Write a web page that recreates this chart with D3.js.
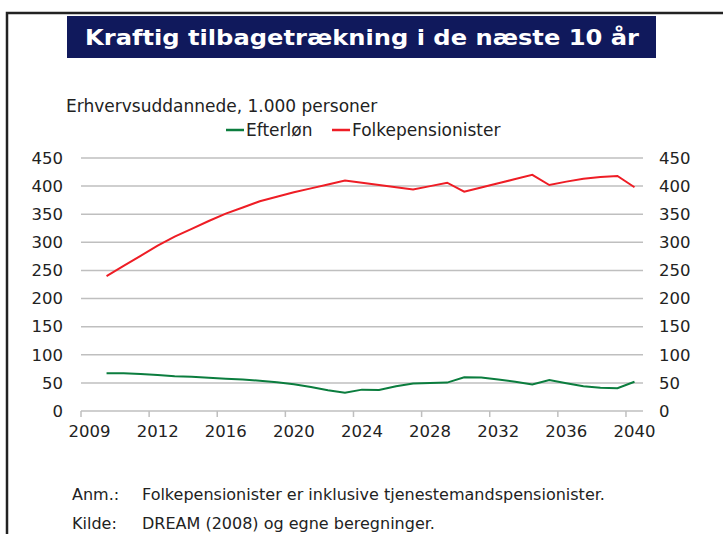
<!DOCTYPE html>
<html>
<head>
<meta charset="utf-8">
<script src="https://cdn.jsdelivr.net/npm/d3@7"></script>
<style>
  body { margin: 0; background: #fff; }
  svg { display: block; font-family: "DejaVu Sans", Verdana, sans-serif; }
</style>
</head>
<body>
<svg id="chart"></svg>
<script>
// data (1.000 personer)
const categories = [2008, 2009, 2010, 2011, 2012, 2013, 2014, 2015, 2016, 2017, 2018,
  2019, 2020, 2021, 2022, 2023, 2024, 2025, 2026, 2027, 2028, 2029, 2030,
  2031, 2032, 2033, 2034, 2035, 2036, 2037, 2038, 2039, 2040]
const years = [2009, 2010, 2011, 2012, 2013, 2014, 2015, 2016, 2017, 2018,
  2019, 2020, 2021, 2022, 2023, 2024, 2025, 2026, 2027, 2028, 2029, 2030,
  2031, 2032, 2033, 2034, 2035, 2036, 2037, 2038, 2039, 2040]
const efterlon = [67, 67, 66, 64, 62, 61, 59, 57.5, 56, 54,
  51, 47.5, 42.5, 37, 32.5, 38, 37.5, 44, 49, 50, 50.5, 60,
  59.5, 56, 52, 47, 55, 49.5, 44, 41.5, 40.5, 52]
const folkepension = [240, 258, 276, 294, 310, 324, 338, 351, 362, 373,
  381, 389, 396, 403, 410, 406, 402, 398, 394, 400, 406, 390,
  397.5, 405, 412.5, 420, 402, 408, 413, 416, 418, 398]

// x tick labels as printed, and the category slot each one sits on
const xTickLabels = ['2009', '2012', '2016', '2020', '2024', '2028', '2032', '2036', '2040']
const xTickSlots = [2008, 2012, 2016, 2020, 2024, 2028, 2032, 2036, 2040]
const yTicks = [0, 50, 100, 150, 200, 250, 300, 350, 400, 450]

const W = 723, H = 534
const plotL = 81, plotR = 643, plotT = 158, plotB = 411
const gray = '#bfbfbf'
const txt = '#222'

const svg = d3.select('#chart')
  .attr('width', W)
  .attr('height', H)

// frame + title box
svg.append('rect')
  .attr('x', 7).attr('y', 13)
  .attr('width', W + 20).attr('height', H + 20)
  .attr('fill', 'none')
  .attr('stroke', '#222')
  .attr('stroke-width', 2.5)

svg.append('rect')
  .attr('x', 67).attr('y', 16)
  .attr('width', 589).attr('height', 42)
  .attr('fill', '#10195c')

svg.append('text')
  .attr('x', 85).attr('y', 45)
  .attr('textLength', 554)
  .attr('lengthAdjust', 'spacingAndGlyphs')
  .attr('fill', '#fff')
  .attr('font-size', 22)
  .attr('font-weight', 'bold')
  .text('Kraftig tilbagetrækning i de næste 10 år')

// scales
const x = d3.scaleBand()
  .domain(categories)
  .range([plotL, plotR])
const y = d3.scaleLinear()
  .domain([0, 450])
  .range([plotB, plotT])

// grid lines
svg.append('g')
  .selectAll('line')
  .data(yTicks)
  .enter()
  .append('line')
  .attr('x1', plotL).attr('x2', plotR)
  .attr('y1', d => y(d)).attr('y2', d => y(d))
  .attr('stroke', gray)
  .attr('stroke-width', 1.5)

// x tick marks sit on the slot edge, labels in the slot middle
svg.append('g')
  .selectAll('line')
  .data(xTickSlots)
  .enter()
  .append('line')
  .attr('x1', d => x(d)).attr('x2', d => x(d))
  .attr('y1', plotB).attr('y2', plotB + 6)
  .attr('stroke', gray)
  .attr('stroke-width', 1.5)

const xAxis = d3.axisBottom(x)
  .tickValues(xTickSlots)
  .tickFormat((d, i) => xTickLabels[i])
  .tickSize(0)
  .tickPadding(14)
const gx = svg.append('g')
  .attr('transform', `translate(0,${plotB})`)
  .call(xAxis)

// y axes both sides
const gyl = svg.append('g')
  .attr('transform', `translate(${plotL},0)`)
  .call(d3.axisLeft(y).tickValues(yTicks).tickSize(0).tickPadding(18))
const gyr = svg.append('g')
  .attr('transform', `translate(${plotR},0)`)
  .call(d3.axisRight(y).tickValues(yTicks).tickSize(0).tickPadding(16))

;[gx, gyl, gyr].forEach(g => {
  g.select('.domain').remove()
  g.selectAll('text')
    .attr('fill', txt)
    .attr('font-size', 16.5)
    .attr('font-family', '"DejaVu Sans", Verdana, sans-serif')
})

// lines
const cx = d => x(d) + x.bandwidth() / 2
const line = d3.line()
  .x((d, i) => cx(years[i]))
  .y(d => y(d))

svg.append('path')
  .datum(efterlon)
  .attr('d', line)
  .attr('fill', 'none')
  .attr('stroke', '#0b7d3e')
  .attr('stroke-width', 2)

svg.append('path')
  .datum(folkepension)
  .attr('d', line)
  .attr('fill', 'none')
  .attr('stroke', '#ee1d25')
  .attr('stroke-width', 2)

// axis title + legend
svg.append('text')
  .attr('x', 66).attr('y', 112)
  .attr('font-size', 17)
  .attr('fill', txt)
  .text('Erhvervsuddannede, 1.000 personer')

const legend = [
  {name: 'Efterløn', color: '#0b7d3e', x: 226},
  {name: 'Folkepensionister', color: '#ee1d25', x: 332},
]
const lg = svg.append('g')
  .selectAll('g')
  .data(legend)
  .enter()
  .append('g')
  .attr('transform', d => `translate(${d.x},130)`)
lg.append('line')
  .attr('x1', 0).attr('x2', 18)
  .attr('stroke', d => d.color)
  .attr('stroke-width', 2.5)
lg.append('text')
  .attr('x', 20).attr('y', 6)
  .attr('font-size', 17)
  .attr('fill', txt)
  .text(d => d.name)

// notes
const notes = [
  ['Anm.:', 'Folkepensionister er inklusive tjenestemandspensionister.'],
  ['Kilde:', 'DREAM (2008) og egne beregninger.'],
]
const ng = svg.append('g')
  .selectAll('g')
  .data(notes)
  .enter()
  .append('g')
  .attr('transform', (d, i) => `translate(0,${500 + i * 29})`)
ng.append('text')
  .attr('x', 72)
  .attr('font-size', 16)
  .attr('fill', txt)
  .text(d => d[0])
ng.append('text')
  .attr('x', 142)
  .attr('font-size', 16)
  .attr('fill', txt)
  .text(d => d[1])
</script>
</body>
</html>
